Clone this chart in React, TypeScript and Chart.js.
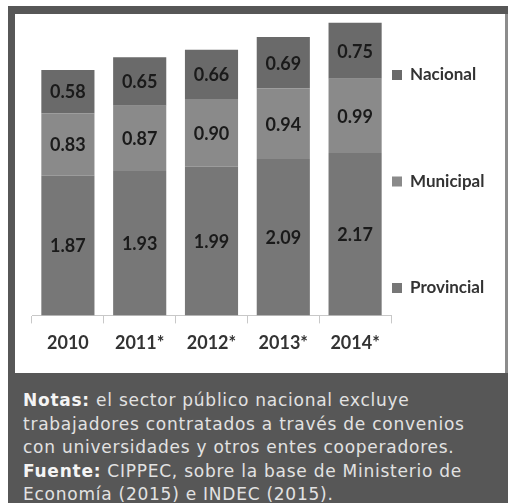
import { useEffect, useRef } from "react";
import { Chart, registerables } from "chart.js";

Chart.register(...registerables);

const years = ["2010", "2011*", "2012*", "2013*", "2014*"];
const provincial = [1.87, 1.93, 1.99, 2.09, 2.17];
const municipal = [0.83, 0.87, 0.9, 0.94, 0.99];
const nacional = [0.58, 0.65, 0.66, 0.69, 0.75];
const seriesNames = ["Provincial", "Municipal", "Nacional"];
const seriesColors = ["#777777", "#8a8a8a", "#6a6a6a"];
const yMax = 4;

const noteLines = [
  { bold: "Notas:", text: " el sector público nacional excluye" },
  { bold: "", text: "trabajadores contratados a través de convenios" },
  { bold: "", text: "con universidades y otros entes cooperadores." },
  { bold: "Fuente:", text: " CIPPEC, sobre la base de Ministerio de" },
  { bold: "", text: "Economía (2015) e INDEC (2015)." },
];

const valueLabels = {
  id: "valueLabels",
  afterDatasetsDraw(chart: any) {
    const ctx = chart.ctx;
    ctx.save();
    ctx.font = "bold 18px Lato";
    ctx.fillStyle = "#1a1a1a";
    ctx.textAlign = "center";
    ctx.textBaseline = "middle";
    chart.data.datasets.forEach((ds: any, i: number) => {
      const meta = chart.getDatasetMeta(i);
      meta.data.forEach((bar: any, j: number) => {
        const p = bar.getProps(["x", "y", "base"], true);
        ctx.fillText(Number(ds.data[j]).toFixed(2), p.x, (p.y + p.base) / 2 + 1);
      });
    });
    ctx.restore();
  },
};

const sideLegend = {
  id: "sideLegend",
  afterDraw(chart: any) {
    const { ctx, chartArea } = chart;
    const items = chart.data.datasets
      .map((d: any) => ({ label: d.label, color: d.backgroundColor }))
      .reverse();
    ctx.save();
    ctx.font = "bold 17px Lato";
    ctx.textBaseline = "middle";
    ctx.textAlign = "left";
    items.forEach((it: any, k: number) => {
      const cy = chartArea.top + 59 + k * 106.5;
      const bx = chartArea.right + 1;
      ctx.fillStyle = it.color;
      ctx.fillRect(bx, cy - 5, 10, 10);
      ctx.fillStyle = "#333333";
      ctx.fillText(it.label, bx + 18, cy);
    });
    ctx.restore();
  },
};

export default function App() {
  const ref = useRef<HTMLCanvasElement | null>(null);

  useEffect(() => {
    if (!ref.current) return;
    const series = [provincial, municipal, nacional];
    const chart = new Chart(ref.current, {
      type: "bar",
      data: {
        labels: years,
        datasets: series.map((data, i) => ({
          label: seriesNames[i],
          data,
          backgroundColor: seriesColors[i],
          borderWidth: 0,
          categoryPercentage: 1,
          barPercentage: 0.74,
        })),
      },
      options: {
        responsive: false,
        animation: false,
        layout: { padding: { left: 17, right: 114, top: 2, bottom: 10 } },
        plugins: {
          legend: { display: false },
          tooltip: { enabled: false },
          title: { display: false },
        },
        scales: {
          x: {
            stacked: true,
            grid: {
              display: true,
              drawOnChartArea: false,
              drawTicks: true,
              tickLength: 8,
              color: "#c8c8c8",
              offset: true,
            },
            border: { display: true, color: "#c8c8c8", width: 1 },
            ticks: {
              color: "#333333",
              padding: 9,
              font: { family: "Lato", size: 18, weight: "bold" },
              maxRotation: 0,
            },
          },
          y: {
            stacked: true,
            display: false,
            min: 0,
            max: yMax,
          },
        },
      },
      plugins: [valueLabels, sideLegend],
    });
    return () => chart.destroy();
  }, []);

  return (
    <div
      style={{
        position: "absolute",
        left: 0,
        top: 0,
        width: 510,
        height: 503,
        background: "#ffffff",
        overflow: "hidden",
      }}
    >
      <div
        style={{
          position: "absolute",
          left: 8,
          top: 6,
          width: 500,
          height: 497,
          background: "#575757",
        }}
      />
      <div
        style={{
          position: "absolute",
          left: 505,
          top: 14,
          width: 3,
          height: 359,
          background: "#8c8c8c",
        }}
      />
      <div
        style={{
          position: "absolute",
          left: 15,
          top: 14,
          width: 490,
          height: 359,
          background: "#ffffff",
        }}
      >
        <canvas ref={ref} width={490} height={359} style={{ display: "block" }} />
      </div>
      <div
        style={{
          position: "absolute",
          left: 23,
          top: 389,
          width: 485,
          fontFamily: "'DejaVu Sans', sans-serif",
          fontSize: 17,
          lineHeight: "23.5px",
          letterSpacing: "0.75px",
          color: "#e2e2e2",
          whiteSpace: "nowrap",
        }}
      >
        {noteLines.map((l, i) => (
          <div key={i}>
            {l.bold ? <span style={{ fontWeight: 700, color: "#f4f4f4" }}>{l.bold}</span> : null}
            {l.text}
          </div>
        ))}
      </div>
    </div>
  );
}
